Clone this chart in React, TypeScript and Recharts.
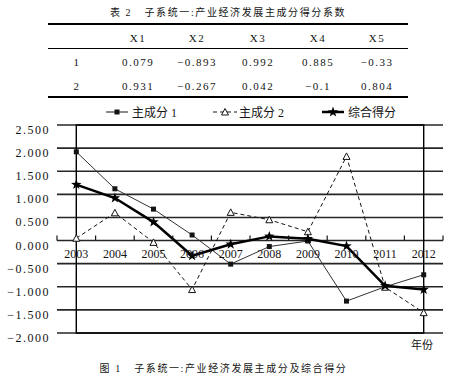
import React from 'react';
import {
  LineChart,
  Line,
  XAxis,
  YAxis,
  CartesianGrid,
  ReferenceArea,
} from 'recharts';

// table 2 data
const tableHeader = ['X1', 'X2', 'X3', 'X4', 'X5'];
const tableRowLabels = ['1', '2'];
const tableRow1 = [0.079, -0.893, 0.992, 0.885, -0.33];
const tableRow2 = [0.931, -0.267, 0.042, -0.1, 0.804];

// figure 1 data
const years = ['2003', '2004', '2005', '2006', '2007', '2008', '2009', '2010', '2011', '2012'];
const pc1 = [1.92, 1.12, 0.68, 0.12, -0.51, -0.13, -0.01, -1.31, -1.0, -0.74];
const pc2 = [0.05, 0.6, -0.04, -1.06, 0.61, 0.45, 0.19, 1.82, -1.01, -1.56];
const composite = [1.21, 0.92, 0.4, -0.33, -0.08, 0.09, 0.04, -0.12, -0.98, -1.06];
const yTicks = [-2, -1.5, -1, -0.5, 0, 0.5, 1, 1.5, 2, 2.5];

const seriesNames = ['主成分 1', '主成分 2', '综合得分'];

const chartData = years.map((year, i) => ({
  year,
  pc1: pc1[i],
  pc2: pc2[i],
  composite: composite[i],
}));

const FONT = "'Liberation Serif', 'Noto Sans CJK SC', serif";
const INK = '#141414';

// chart geometry
const CHART_W = 469;
const CHART_H = 250;
const MARGIN = { top: 25, right: 26, bottom: 16, left: 0 };
const PLOT_H = CHART_H - MARGIN.top - MARGIN.bottom - 1;
const PLOT_W = CHART_W - MARGIN.left - MARGIN.right - 57;
const STEP = PLOT_W / years.length;
const ZERO_Y = MARGIN.top + PLOT_H * (2.5 / 4.5);

const fmtNum = (v: number, digits?: number) => {
  const s = digits === undefined ? String(Math.abs(v)) : Math.abs(v).toFixed(digits);
  return v < 0 ? `\u2212${s}` : s;
};

const XTick = (props: any) => {
  const { x, payload, index } = props;
  return (
    <g>
      <line x1={x - STEP / 2} x2={x - STEP / 2} y1={ZERO_Y} y2={ZERO_Y - 5} stroke={INK} strokeWidth={1.2} />
      {index === years.length - 1 && (
        <line x1={x + STEP / 2} x2={x + STEP / 2} y1={ZERO_Y} y2={ZERO_Y - 5} stroke={INK} strokeWidth={1.2} />
      )}
      <text x={x} y={ZERO_Y + 17} textAnchor="middle" fontSize={12} fontFamily={FONT} fill={INK}>
        {payload.value}
      </text>
    </g>
  );
};

const YTick = (props: any) => {
  const { y, payload } = props;
  return (
    <text x={50} y={y + 9} textAnchor="end" fontSize={12} fontFamily={FONT} fill={INK} letterSpacing={1.5}>
      {fmtNum(payload.value, 3)}
    </text>
  );
};

const starPath = (cx: number, cy: number, r: number, ri: number) => {
  const pts: string[] = [];
  for (let k = 0; k < 10; k++) {
    const rad = k % 2 === 0 ? r : ri;
    const a = -Math.PI / 2 + (k * Math.PI) / 5;
    pts.push(`${cx + rad * Math.cos(a)},${cy + rad * Math.sin(a)}`);
  }
  return `M${pts.join('L')}Z`;
};

const SquareDot = (props: any) => {
  const { cx, cy, index } = props;
  return <rect key={`sq-${index}`} x={cx - 2.5} y={cy - 2.5} width={5} height={5} fill={INK} />;
};

const TriangleDot = (props: any) => {
  const { cx, cy, index } = props;
  return (
    <path
      key={`tr-${index}`}
      d={`M${cx},${cy - 3.5}L${cx + 3.5},${cy + 3}L${cx - 3.5},${cy + 3}Z`}
      fill="#fff"
      stroke={INK}
      strokeWidth={1}
    />
  );
};

const StarDot = (props: any) => {
  const { cx, cy, index } = props;
  return <path key={`st-${index}`} d={starPath(cx, cy, 5.5, 2.2)} fill="#000" />;
};

const LegendItem: React.FC<{ left: number; kind: number; label: string }> = ({ left, kind, label }) => (
  <div style={{ position: 'absolute', left, top: 104, height: 16, display: 'flex', alignItems: 'center' }}>
    <svg width={24} height={16}>
      {kind === 0 && (
        <>
          <line x1={0} x2={22} y1={8} y2={8} stroke={INK} strokeWidth={1} />
          <rect x={8.5} y={5.5} width={5} height={5} fill={INK} />
        </>
      )}
      {kind === 1 && (
        <>
          <line x1={0} x2={24} y1={8} y2={8} stroke={INK} strokeWidth={1} strokeDasharray="4 3" />
          <path d="M12,4.5L15.5,11L8.5,11Z" fill="#fff" stroke={INK} />
        </>
      )}
      {kind === 2 && (
        <>
          <line x1={0} x2={22} y1={8} y2={8} stroke="#000" strokeWidth={2.5} />
          <path d={starPath(11, 8, 5.5, 2.2)} fill="#000" />
        </>
      )}
    </svg>
    <span style={{ fontSize: 12, fontFamily: FONT, color: INK, marginLeft: 2, whiteSpace: 'nowrap' }}>{label}</span>
  </div>
);

const colX = [138, 197, 258, 318, 377];
const rowLabelX = 77;

const Cell: React.FC<{ x: number; y: number; text: string }> = ({ x, y, text }) => (
  <div
    style={{
      position: 'absolute',
      left: x - 40,
      top: y - 8,
      width: 80,
      textAlign: 'center',
      fontSize: 11,
      lineHeight: '16px',
      fontFamily: FONT,
      color: INK,
      letterSpacing: 1.5,
      whiteSpace: 'nowrap',
    }}
  >
    {text}
  </div>
);

export default function App() {
  const rows = [tableRow1, tableRow2];
  const rowY = [62, 86];
  return (
    <div
      style={{
        position: 'absolute',
        left: 0,
        top: 0,
        width: 469,
        height: 382,
        background: '#fff',
        overflow: 'hidden',
        fontFamily: FONT,
      }}
    >
      {/* table title */}
      <div
        style={{
          position: 'absolute',
          left: 0,
          top: 5,
          width: 456,
          textAlign: 'center',
          fontSize: 10,
          lineHeight: '16px',
          letterSpacing: 1.6,
          color: INK,
          whiteSpace: 'pre',
        }}
      >
        {'表 2   子系统一:产业经济发展主成分得分系数'}
      </div>

      {/* table rules */}
      <div style={{ position: 'absolute', left: 48, top: 23, width: 360, height: 2, background: '#000' }} />
      <div style={{ position: 'absolute', left: 48, top: 48, width: 360, height: 1, background: '#000' }} />
      <div style={{ position: 'absolute', left: 48, top: 96, width: 360, height: 2, background: '#000' }} />

      {tableHeader.map((h, i) => (
        <Cell key={h} x={colX[i]} y={38} text={h} />
      ))}
      {rows.map((row, r) => (
        <React.Fragment key={r}>
          <Cell x={rowLabelX} y={rowY[r]} text={tableRowLabels[r]} />
          {row.map((v, i) => (
            <Cell key={i} x={colX[i]} y={rowY[r]} text={fmtNum(v)} />
          ))}
        </React.Fragment>
      ))}

      {/* legend */}
      <LegendItem left={106} kind={0} label={seriesNames[0]} />
      <LegendItem left={213} kind={1} label={seriesNames[1]} />
      <LegendItem left={322} kind={2} label={seriesNames[2]} />

      <div style={{ position: 'absolute', left: 0, top: 100 }}>
        <LineChart width={CHART_W} height={CHART_H} data={chartData} margin={MARGIN}>
          <CartesianGrid vertical={false} stroke="#262626" strokeWidth={1.6} />
          <ReferenceArea y1={-2} y2={2.5} fill="none" stroke="#000" strokeWidth={1.4} />
          <XAxis
            dataKey="year"
            height={1}
            axisLine={false}
            tickLine={false}
            padding={{ left: STEP / 2, right: STEP / 2 }}
            tick={<XTick />}
            interval={0}
          />
          <YAxis
            width={57}
            domain={[-2, 2.5]}
            ticks={yTicks}
            axisLine={false}
            tickLine={false}
            tick={<YTick />}
            interval={0}
          />
          <Line
            dataKey="pc1"
            name={seriesNames[0]}
            stroke="#333"
            strokeWidth={1}
            dot={SquareDot}
            isAnimationActive={false}
          />
          <Line
            dataKey="pc2"
            name={seriesNames[1]}
            stroke={INK}
            strokeWidth={1}
            strokeDasharray="4 3"
            dot={TriangleDot}
            isAnimationActive={false}
          />
          <Line
            dataKey="composite"
            name={seriesNames[2]}
            stroke="#000"
            strokeWidth={2.5}
            dot={StarDot}
            isAnimationActive={false}
          />
        </LineChart>
      </div>

      <div
        style={{ position: 'absolute', left: 411, top: 337, fontSize: 11, lineHeight: '16px', color: INK }}
      >
        年份
      </div>

      {/* figure caption */}
      <div
        style={{
          position: 'absolute',
          left: 0,
          top: 361,
          width: 447,
          textAlign: 'center',
          fontSize: 10,
          lineHeight: '16px',
          letterSpacing: 1.6,
          color: INK,
          whiteSpace: 'pre',
        }}
      >
        {'图 1   子系统一:产业经济发展主成分及综合得分'}
      </div>
    </div>
  );
}
